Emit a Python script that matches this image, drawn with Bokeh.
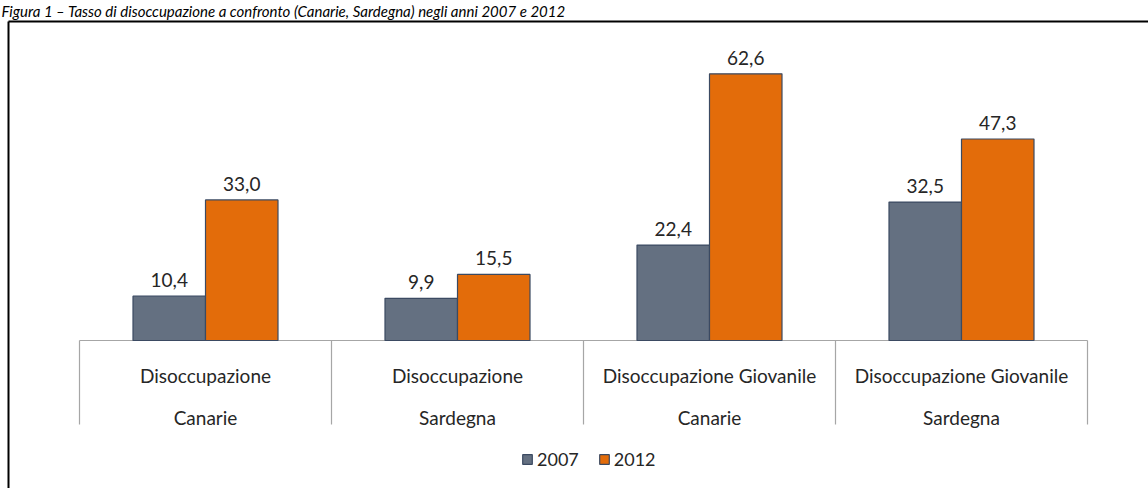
import numpy as np
from bokeh.plotting import figure
from bokeh.models import Range1d, Legend, LegendItem, Label
from bokeh.core.properties import value
from bokeh.embed import file_html
from bokeh.resources import INLINE

# ---- data ----
title_text = "Figura 1 – Tasso di disoccupazione a confronto (Canarie, Sardegna) negli anni 2007 e 2012"
category_line1 = ["Disoccupazione", "Disoccupazione", "Disoccupazione Giovanile", "Disoccupazione Giovanile"]
category_line2 = ["Canarie", "Sardegna", "Canarie", "Sardegna"]
years = ["2007", "2012"]
values_2007 = [10.4, 9.9, 22.4, 32.5]
values_2012 = [33.0, 15.5, 62.6, 47.3]

# ---- layout constants (pixels) ----
W, H = 1148, 488
CAT_PX = 252          # width of one category
LEFT_PX = 79          # px from left edge to first category boundary
BASE_PX = 340         # px (from top) of value 0
PX_PER_UNIT = 4.26    # pixels per percentage point
BAR_W = 72.5 / CAT_PX

FONT = "Lato"
TXT = "#262626"

n = len(values_2007)
idx = np.arange(n)
x_start = -0.5 - LEFT_PX / CAT_PX
x_end = x_start + W / CAT_PX
y_top = BASE_PX / PX_PER_UNIT
y_bot = -(H - BASE_PX) / PX_PER_UNIT

p = figure(width=W, height=H, x_range=Range1d(x_start, x_end), y_range=Range1d(y_bot, y_top),
           output_backend="svg", toolbar_location=None, min_border=0,
           x_axis_location=None, y_axis_location=None)
p.grid.visible = False
p.outline_line_color = None
p.background_fill_color = "white"
p.border_fill_color = "white"

# category axis line and separators
bounds = np.arange(n + 1) - 0.5
p.segment(x0=[bounds[0]], y0=[0], x1=[bounds[-1]], y1=[0], line_color="#A6A6A6", line_width=1.2)
p.segment(x0=bounds, y0=np.zeros(n + 1), x1=bounds, y1=np.full(n + 1, -84 / PX_PER_UNIT),
          line_color="#A6A6A6", line_width=1.2)

# bars
x07 = idx - BAR_W / 2
x12 = idx + BAR_W / 2
r07 = p.vbar(x=x07, top=values_2007, bottom=0, width=BAR_W, fill_color="#647081",
             line_color="#3B4A62", line_width=1.2)
r12 = p.vbar(x=x12, top=values_2012, bottom=0, width=BAR_W, fill_color="#E36C0A",
             line_color="#3B4A62", line_width=1.2)

def fmt(v):
    return f"{v:.1f}".replace(".", ",")

val_kw = dict(text_align="center", text_baseline="alphabetic", text_font=value(FONT),
              text_font_size="19px", text_color=TXT)
cat_kw = dict(val_kw, text_font_size="19px")
p.text(x=x07, y=values_2007, text=[fmt(v) for v in values_2007], y_offset=-16, **val_kw)
p.text(x=x12, y=values_2012, text=[fmt(v) for v in values_2012], y_offset=-16, **val_kw)

# category labels (two lines)
p.text(x=idx, y=np.zeros(n), text=category_line1, y_offset=35, **cat_kw)
p.text(x=idx, y=np.zeros(n), text=category_line2, y_offset=77, **cat_kw)

# frame of the figure (top and left border)
top_y = (BASE_PX - 21) / PX_PER_UNIT
left_x = x_start + 8 / CAT_PX
p.segment(x0=[left_x, left_x], y0=[top_y, top_y], x1=[x_end, left_x], y1=[top_y, y_bot],
          line_color="black", line_width=2)

# title
p.add_layout(Label(x=x_start, y=(BASE_PX - 1) / PX_PER_UNIT, x_offset=1, text=title_text,
                   text_font=FONT, text_font_size="15px", text_font_style="italic",
                   text_color="black", text_baseline="top"))

legend = Legend(items=[LegendItem(label=years[0], renderers=[r07]),
                       LegendItem(label=years[1], renderers=[r12])],
                orientation="horizontal", location=(521, 18),
                label_text_font=FONT, label_text_font_size="18px", label_text_color=TXT,
                glyph_width=12, glyph_height=12, label_standoff=4, spacing=19, padding=0,
                border_line_color=None, background_fill_alpha=0, margin=0)
p.add_layout(legend, "center")

open("out.html", "w").write(file_html(p, INLINE))
